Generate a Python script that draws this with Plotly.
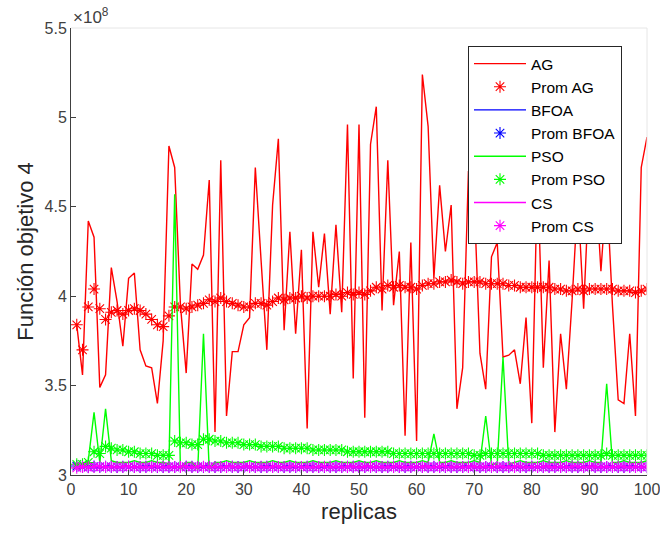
import plotly.graph_objects as go

replicas = list(range(1, 101))

# values in units of 1e8
ag = [3.84, 3.56, 4.42, 4.33, 3.49, 3.56, 4.16, 3.97, 3.72, 4.10,
      4.13, 3.70, 3.61, 3.60, 3.40, 3.75, 4.84, 4.72, 3.95, 3.57,
      4.18, 4.15, 4.23, 4.65, 3.24, 4.76, 3.33, 3.69, 3.69, 3.84,
      3.88, 4.72, 4.20, 3.70, 4.51, 4.88, 3.81, 4.36, 3.79, 4.26,
      3.26, 4.36, 4.05, 4.35, 3.90, 4.40, 3.91, 4.96, 3.54, 4.96,
      3.32, 4.85, 5.06, 3.92, 4.76, 3.95, 4.25, 3.22, 4.30, 3.19,
      5.24, 4.95, 4.10, 4.62, 4.25, 4.51, 3.37, 3.60, 4.70, 4.55,
      3.68, 3.48, 4.22, 4.30, 3.66, 3.67, 3.70, 3.51, 3.88, 3.29,
      4.70, 3.60, 4.20, 3.24, 3.79, 3.48, 3.98, 4.55, 3.93, 4.65,
      4.70, 4.14, 4.60, 3.95, 3.42, 3.40, 3.79, 3.33, 4.72, 4.89]

prom_ag = [3.84, 3.70, 3.94, 4.04, 3.93, 3.87, 3.91, 3.92, 3.90, 3.92,
           3.93, 3.92, 3.90, 3.87, 3.84, 3.83, 3.89, 3.94, 3.94, 3.93,
           3.94, 3.95, 3.96, 3.98, 3.97, 3.99, 3.97, 3.96, 3.95, 3.94,
           3.94, 3.96, 3.96, 3.95, 3.97, 3.99, 3.98, 3.99, 3.99, 4.00,
           3.99, 4.00, 4.00, 4.00, 4.00, 4.01, 4.00, 4.02, 4.01, 4.02,
           4.01, 4.03, 4.05, 4.04, 4.06, 4.05, 4.06, 4.05, 4.05, 4.04,
           4.06, 4.07, 4.07, 4.08, 4.08, 4.09, 4.08, 4.07, 4.08, 4.08,
           4.08, 4.07, 4.07, 4.07, 4.07, 4.06, 4.06, 4.05, 4.05, 4.05,
           4.05, 4.05, 4.05, 4.04, 4.04, 4.03, 4.03, 4.04, 4.03, 4.04,
           4.04, 4.04, 4.04, 4.04, 4.03, 4.03, 4.03, 4.02, 4.03, 4.04]

bfoa = [3.05, 3.04, 3.05, 3.05, 3.04, 3.05, 3.05, 3.04, 3.05, 3.05,
        3.04, 3.05, 3.05, 3.05, 3.04, 3.05, 3.05, 3.04, 3.05, 3.05,
        3.05, 3.04, 3.05, 3.05, 3.04, 3.05, 3.05, 3.05, 3.04, 3.05,
        3.05, 3.04, 3.05, 3.05, 3.05, 3.04, 3.05, 3.05, 3.04, 3.05,
        3.05, 3.05, 3.04, 3.05, 3.05, 3.04, 3.05, 3.05, 3.05, 3.04,
        3.05, 3.05, 3.04, 3.05, 3.05, 3.05, 3.04, 3.05, 3.05, 3.04,
        3.05, 3.05, 3.05, 3.04, 3.05, 3.05, 3.04, 3.05, 3.05, 3.05,
        3.04, 3.05, 3.05, 3.04, 3.05, 3.05, 3.05, 3.04, 3.05, 3.05,
        3.04, 3.05, 3.05, 3.05, 3.04, 3.05, 3.05, 3.04, 3.05, 3.05,
        3.05, 3.04, 3.05, 3.05, 3.04, 3.05, 3.05, 3.05, 3.04, 3.05]

prom_bfoa = [
    3.05, 3.045, 3.045, 3.047, 3.046, 3.046, 3.046, 3.045, 3.046, 3.046,
    3.045, 3.045, 3.046, 3.046, 3.045, 3.045, 3.046, 3.045, 3.045, 3.046,
    3.046, 3.045, 3.045, 3.046, 3.045, 3.045, 3.046, 3.046, 3.045, 3.045,
    3.046, 3.045, 3.045, 3.046, 3.046, 3.045, 3.045, 3.046, 3.045, 3.045,
    3.046, 3.046, 3.045, 3.045, 3.046, 3.045, 3.045, 3.046, 3.046, 3.045,
    3.045, 3.046, 3.045, 3.045, 3.046, 3.046, 3.045, 3.045, 3.046, 3.045,
    3.045, 3.046, 3.046, 3.045, 3.045, 3.046, 3.045, 3.045, 3.046, 3.046,
    3.045, 3.045, 3.046, 3.045, 3.045, 3.046, 3.046, 3.045, 3.045, 3.046,
    3.045, 3.045, 3.046, 3.046, 3.045, 3.045, 3.046, 3.045, 3.045, 3.046,
    3.046, 3.045, 3.045, 3.046, 3.045, 3.045, 3.046, 3.046, 3.045, 3.045]

pso = [3.06, 3.06, 3.08, 3.35, 3.07, 3.37, 3.08, 3.07, 3.07, 3.07,
       3.08, 3.07, 3.07, 3.08, 3.07, 3.07, 3.06, 4.57, 3.03, 3.07,
       3.07, 3.03, 3.79, 3.03, 3.07, 3.07, 3.08, 3.07, 3.07, 3.07,
       3.08, 3.07, 3.07, 3.07, 3.08, 3.07, 3.07, 3.08, 3.07, 3.07,
       3.07, 3.08, 3.07, 3.07, 3.07, 3.08, 3.07, 3.07, 3.07, 3.08,
       3.07, 3.07, 3.08, 3.07, 3.07, 3.07, 3.08, 3.07, 3.07, 3.07,
       3.08, 3.07, 3.23, 3.07, 3.07, 3.08, 3.07, 3.07, 3.07, 3.08,
       3.07, 3.33, 3.06, 3.06, 3.66, 3.06, 3.07, 3.08, 3.07, 3.07,
       3.07, 3.08, 3.07, 3.07, 3.07, 3.08, 3.07, 3.07, 3.07, 3.08,
       3.07, 3.07, 3.51, 3.07, 3.07, 3.08, 3.07, 3.07, 3.07, 3.08]

prom_pso = [3.06, 3.06, 3.07, 3.13, 3.12, 3.16, 3.15, 3.14, 3.14, 3.13,
            3.13, 3.12, 3.12, 3.12, 3.11, 3.11, 3.11, 3.19, 3.18, 3.18,
            3.17, 3.17, 3.20, 3.20, 3.19, 3.19, 3.18, 3.18, 3.18, 3.17,
            3.17, 3.17, 3.16, 3.16, 3.16, 3.16, 3.15, 3.15, 3.15, 3.15,
            3.15, 3.14, 3.14, 3.14, 3.14, 3.14, 3.14, 3.13, 3.13, 3.13,
            3.13, 3.13, 3.13, 3.13, 3.13, 3.12, 3.12, 3.12, 3.12, 3.12,
            3.12, 3.12, 3.12, 3.12, 3.12, 3.12, 3.12, 3.12, 3.12, 3.11,
            3.11, 3.12, 3.12, 3.12, 3.12, 3.12, 3.12, 3.12, 3.12, 3.12,
            3.12, 3.11, 3.11, 3.11, 3.11, 3.11, 3.11, 3.11, 3.11, 3.11,
            3.11, 3.11, 3.12, 3.11, 3.11, 3.11, 3.11, 3.11, 3.11, 3.11]

cs = [3.04, 3.05, 3.04, 3.05, 3.05, 3.04, 3.05, 3.04, 3.05, 3.05,
      3.04, 3.05, 3.04, 3.05, 3.05, 3.04, 3.05, 3.04, 3.05, 3.05,
      3.04, 3.05, 3.05, 3.04, 3.05, 3.04, 3.05, 3.05, 3.04, 3.05,
      3.05, 3.04, 3.05, 3.04, 3.05, 3.05, 3.04, 3.05, 3.05, 3.04,
      3.05, 3.04, 3.05, 3.05, 3.04, 3.05, 3.04, 3.05, 3.05, 3.04,
      3.05, 3.05, 3.04, 3.05, 3.04, 3.05, 3.05, 3.04, 3.05, 3.04,
      3.05, 3.05, 3.04, 3.05, 3.05, 3.04, 3.05, 3.04, 3.05, 3.05,
      3.04, 3.05, 3.04, 3.05, 3.05, 3.04, 3.05, 3.05, 3.04, 3.05,
      3.04, 3.05, 3.05, 3.04, 3.05, 3.04, 3.05, 3.05, 3.04, 3.05,
      3.05, 3.04, 3.05, 3.04, 3.05, 3.05, 3.04, 3.05, 3.04, 3.05]

prom_cs = [3.04, 3.045, 3.043, 3.045, 3.046, 3.045, 3.046, 3.045, 3.045, 3.046,
           3.045, 3.045, 3.045, 3.045, 3.046, 3.045, 3.045, 3.045, 3.045, 3.046,
           3.045, 3.045, 3.046, 3.045, 3.045, 3.045, 3.045, 3.046, 3.045, 3.045,
           3.045, 3.045, 3.046, 3.045, 3.045, 3.045, 3.045, 3.045, 3.046, 3.045,
           3.045, 3.045, 3.045, 3.046, 3.045, 3.045, 3.045, 3.045, 3.045, 3.045,
           3.045, 3.046, 3.045, 3.045, 3.045, 3.045, 3.045, 3.046, 3.045, 3.045,
           3.045, 3.045, 3.045, 3.045, 3.046, 3.045, 3.045, 3.045, 3.045, 3.045,
           3.045, 3.045, 3.046, 3.045, 3.045, 3.045, 3.045, 3.045, 3.045, 3.046,
           3.045, 3.045, 3.045, 3.045, 3.045, 3.045, 3.046, 3.045, 3.045, 3.045,
           3.045, 3.045, 3.045, 3.046, 3.045, 3.045, 3.045, 3.045, 3.045, 3.045]

x_ticks = [0, 10, 20, 30, 40, 50, 60, 70, 80, 90, 100]
y_ticks = [3, 3.5, 4, 4.5, 5, 5.5]
y_tick_labels = ["3", "3.5", "4", "4.5", "5", "5.5"]

series = [
    ("AG", ag, "Prom AG", prom_ag, "#ff0000"),
    ("BFOA", bfoa, "Prom BFOA", prom_bfoa, "#0000ff"),
    ("PSO", pso, "Prom PSO", prom_pso, "#00ff00"),
    ("CS", cs, "Prom CS", prom_cs, "#ff00ff"),
]

FONT = "Liberation Sans, Arial, Helvetica, sans-serif"
fig = go.Figure()
for name, vals, pname, pvals, col in series:
    fig.add_trace(go.Scatter(x=replicas, y=vals, name=name, mode="lines",
                             line=dict(color=col, width=1.4)))
    fig.add_trace(go.Scatter(x=replicas, y=pvals, name=pname, mode="markers",
                             marker=dict(symbol="asterisk-open", size=10, color=col,
                                         line=dict(color=col, width=1.1))))

axis_col = "#404040"
fig.update_layout(
    width=660, height=534,
    margin=dict(l=71, r=13, t=28, b=59, autoexpand=False),
    paper_bgcolor="white", plot_bgcolor="white",
    font=dict(family=FONT, size=16, color="#262626"),
    showlegend=True,
    legend=dict(x=(468 - 71) / 576, y=1 - (46 - 28) / 447, xanchor="left", yanchor="top",
                bgcolor="white", bordercolor="#262626", borderwidth=1,
                itemwidth=52,
                font=dict(family=FONT, size=15.5, color="#000000"), tracegroupgap=0),
    xaxis=dict(range=[0, 100], tickvals=x_ticks, ticks="inside", ticklen=5,
               tickcolor=axis_col, showline=True, linecolor=axis_col, linewidth=1,
               showgrid=False, zeroline=False, ticklabeloverflow="allow", automargin=False,
               title=dict(text="replicas", font=dict(size=22, color="#262626"), standoff=6),
               tickfont=dict(size=16, color="#404040")),
    yaxis=dict(range=[3, 5.5], tickvals=y_ticks, ticktext=y_tick_labels, ticks="inside",
               ticklen=5, tickcolor=axis_col, showline=True, linecolor=axis_col, linewidth=1,
               showgrid=False, zeroline=False, ticklabeloverflow="allow", automargin=False,
               title=dict(text="Función objetivo 4", font=dict(size=22, color="#262626"), standoff=4),
               tickfont=dict(size=16, color="#404040")),
)

# light top/right border as in MATLAB box
fig.add_shape(type="line", xref="paper", yref="paper", x0=0, x1=1, y0=1, y1=1,
              line=dict(color="#e6e6e6", width=1))
fig.add_shape(type="line", xref="paper", yref="paper", x0=1, x1=1, y0=0, y1=1,
              line=dict(color="#e6e6e6", width=1))

fig.add_annotation(text="×10<sup>8</sup>", xref="paper", yref="paper", x=0, y=1,
                   xanchor="left", yanchor="bottom", showarrow=False,
                   font=dict(family=FONT, size=17, color="#404040"), yshift=-1)

fig.write_html("out.html")
